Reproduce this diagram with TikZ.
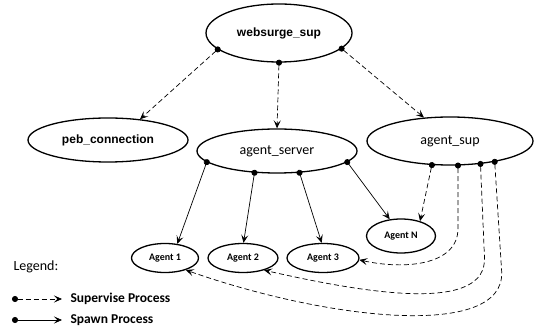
\documentclass[tikz,border=0pt]{standalone}
\usepackage{fontspec}
\setmainfont{Carlito}
\newfontfamily\arialfont{Liberation Sans}
\usetikzlibrary{shapes.geometric, arrows.meta}

\begin{document}
\begin{tikzpicture}[x=1pt, y=-1pt,
		proc/.style={draw, ellipse, line width=1.3pt, inner sep=0pt},
		spawn/.style={line width=0.7pt, shorten <=-3pt,
			{Circle[length=6pt]}-{Stealth[length=8pt, width=7pt, inset=3.5pt]}},
		super/.style={spawn, dash pattern=on 5pt off 3pt}]
		\useasboundingbox (0, 0) rectangle (534, 328);
		% supervisors and servers
		\node[proc, minimum width=146pt, minimum height=58pt, font=\arialfont\bfseries\fontsize{12}{14}\selectfont] (websurge) at (279, 33) {websurge\_sup};
		\node[proc, minimum width=160pt, minimum height=44pt, font=\arialfont\bfseries\fontsize{12}{14}\selectfont] (peb) at (108, 140) {peb\_connection};
		\node[proc, minimum width=160pt, minimum height=44pt, font=\fontsize{14}{16}\selectfont] (aserver) at (277, 151) {agent\_server};
		\node[proc, minimum width=166pt, minimum height=48pt, font=\fontsize{14}{16}\selectfont] (asup) at (450, 141) {agent\_sup};
		% agents
		\node[proc, minimum width=67pt, minimum height=29pt, font=\bfseries\fontsize{10}{12}\selectfont] (a1) at (165, 258) {Agent 1};
		\node[proc, minimum width=70pt, minimum height=29pt, font=\bfseries\fontsize{10}{12}\selectfont] (a2) at (243, 258) {Agent 2};
		\node[proc, minimum width=72pt, minimum height=29pt, font=\bfseries\fontsize{10}{12}\selectfont] (a3) at (323, 258) {Agent 3};
		\node[proc, minimum width=69pt, minimum height=34pt, font=\bfseries\fontsize{10}{12}\selectfont] (aN) at (401, 236) {Agent N};

		\draw[super] (websurge.195) -- (peb.33);
		\draw[super] (websurge.270) -- (aserver.north);
		\draw[super] (websurge.346) -- (asup.138);

		\draw[spawn] (aserver.189) -- (a1.49);
		\draw[spawn] (aserver.224) -- (a2.88);
		\draw[spawn] (aserver.316) -- (a3.95);
		\draw[spawn] (aserver.351) -- (aN.124);

		\draw[super] (asup.233) -- (aN.38);
		\draw[super] (asup.288) -- ++(0, 63) .. controls +(0, 37) and +(45, 10) .. (a3.357);
		\draw[super] (asup.323) -- ++(4, 93) .. controls +(3, 55) and +(110, 25) .. (a2.330);
		\draw[super] (asup.335) -- ++(7, 110) .. controls +(3, 68) and +(142, 50) .. (a1.330);

		% legend
		\node[anchor=west, font=\fontsize{14}{16}\selectfont] (legend) at (10, 267) {Legend:};
		\coordinate (suptail) at (15, 299);
		\coordinate (suphead) at (62, 299);
		\draw[super] (suptail) -- (suphead);
		\node[anchor=west, font=\bfseries\fontsize{13.5}{16}\selectfont] (suplabel) at (67, 299) {Supervise Process};
		\coordinate (spawntail) at (15, 320);
		\coordinate (spawnhead) at (62, 320);
		\draw[spawn] (spawntail) -- (spawnhead);
		\node[anchor=west, font=\bfseries\fontsize{13.5}{16}\selectfont] (spawnlabel) at (67, 320) {Spawn Process};
	\end{tikzpicture}
\end{document}
